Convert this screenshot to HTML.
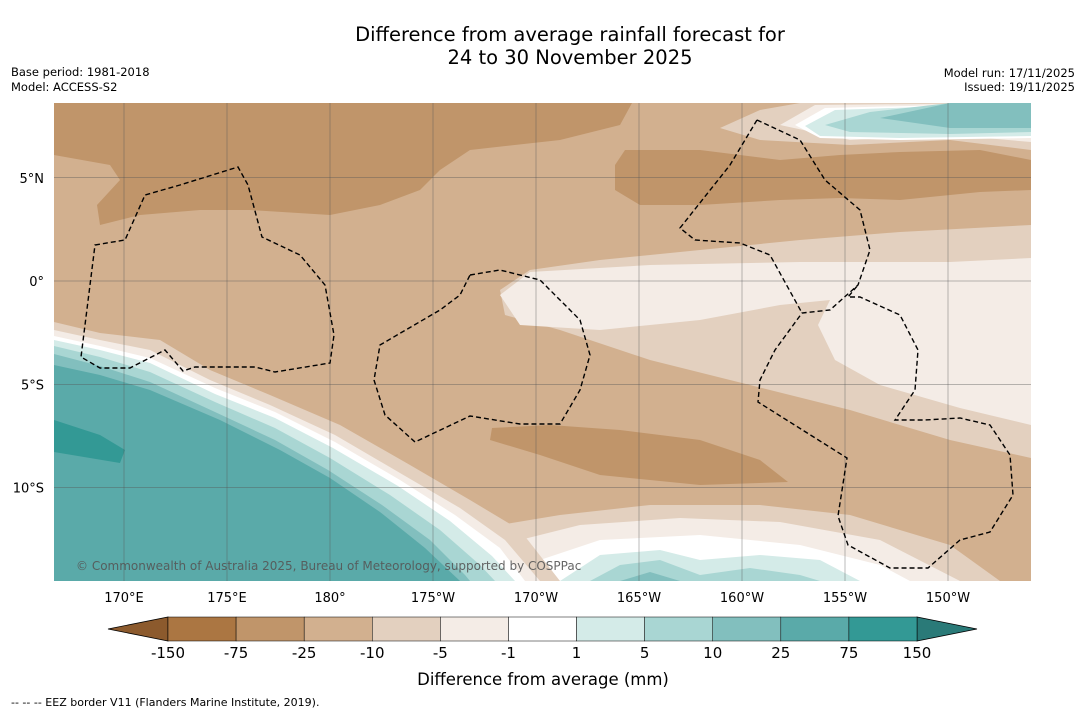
<!DOCTYPE html>
<html><head><meta charset="utf-8"><style>
body{margin:0;background:#fff;width:1085px;height:713px;overflow:hidden;font-family:"Liberation Sans","DejaVu Sans",sans-serif}
svg text{font-family:"DejaVu Sans","Liberation Sans",sans-serif}
</style></head><body>
<svg id="c" width="1085" height="713">
<text x="570" y="41" text-anchor="middle" font-size="19.5">Difference from average rainfall forecast for</text>
<text x="570" y="64" text-anchor="middle" font-size="19.5">24 to 30 November 2025</text>
<text x="11" y="76" font-size="11.5">Base period: 1981-2018</text>
<text x="11" y="91" font-size="11.5">Model: ACCESS-S2</text>
<text x="1075" y="77" font-size="11.5" text-anchor="end">Model run: 17/11/2025</text>
<text x="1075" y="91" font-size="11.5" text-anchor="end">Issued: 19/11/2025</text>
<defs><clipPath id="mc"><rect x="54" y="103" width="977" height="478"/></clipPath></defs>
<g clip-path="url(#mc)">
<rect x="54" y="103" width="977" height="478" fill="#d2b08f"/>
<polygon fill="#c0956a" points="54,103 632,103 620,125 560,140 470,150 440,170 420,190 380,205 330,215 250,210 200,210 140,215 100,225 97,205 120,180 110,165 54,155"/>
<polygon fill="#c0956a" points="625,150 700,150 780,160 840,155 900,152 980,150 1031,160 1031,190 980,192 900,200 840,198 780,200 700,205 640,205 615,190 615,165"/>
<polygon fill="#c0956a" points="492,428 550,425 620,430 700,440 760,460 788,482 700,485 600,475 540,455 490,440"/>
<polygon fill="#e3d0bf" points="500,290 530,270 600,260 700,250 800,240 900,232 1031,225 1031,458 950,440 850,410 750,385 650,360 560,330 505,315"/>
<polygon fill="#f4ece6" points="500,295 530,272 650,265 800,262 950,262 1031,258 1031,425 960,408 880,385 835,360 818,325 830,300 780,305 700,320 600,330 520,325"/>
<polygon fill="#e3d0bf" points="720,128 760,110 800,103 1031,103 1031,150 950,140 850,145 760,140"/>
<polygon fill="#f4ece6" points="780,125 815,105 1031,103 1031,142 950,135 850,140"/>
<polygon fill="#fff" points="795,125 825,108 1031,103 1031,138 900,140 820,138"/>
<polygon fill="#d4ebe8" points="805,126 835,110 1031,103 1031,136 900,138 820,136"/>
<polygon fill="#a9d6d3" points="825,125 870,112 950,103 1031,103 1031,132 950,134 850,132"/>
<polygon fill="#82bfbe" points="880,118 950,103 1031,103 1031,128 950,128"/>
<g>
<polygon fill="#e3d0bf" points="470,530 560,515 650,505 760,505 850,515 950,545 1000,581 470,581"/>
<polygon fill="#f4ece6" points="500,545 580,525 680,518 780,522 880,540 960,581 500,581"/>
<polygon fill="#fff" points="540,560 600,540 700,535 800,545 880,565 910,581 540,581"/>
<polygon fill="#d4ebe8" points="560,581 600,555 660,550 700,560 760,555 820,560 860,581"/>
<polygon fill="#a9d6d3" points="590,581 620,565 660,560 700,575 750,568 800,575 820,581"/>
<polygon fill="#82bfbe" points="620,581 650,572 680,581"/>
</g>
<g>
<polygon fill="#e3d0bf" points="54,322 100,333 160,340 210,370 270,395 340,425 410,465 470,500 520,530 560,581 54,581"/>
<polygon fill="#f4ece6" points="54,330 100,340 150,350 210,380 270,405 335,435 400,473 460,508 505,540 540,581 54,581"/>
<polygon fill="#fff" points="54,336 100,346 150,358 215,388 275,412 335,442 400,480 455,515 500,548 525,581 54,581"/>
<polygon fill="#d4ebe8" points="54,340 100,350 150,363 215,394 275,418 333,448 398,486 450,521 492,556 515,581 54,581"/>
<polygon fill="#a9d6d3" points="54,346 100,357 150,372 215,402 275,428 330,458 390,495 440,530 480,565 495,581 54,581"/>
<polygon fill="#82bfbe" points="54,354 100,366 150,382 215,412 275,440 328,470 382,505 430,540 465,575 470,581 54,581"/>
<polygon fill="#5aaaa9" points="54,365 100,375 150,390 220,420 280,450 330,478 380,512 425,548 460,581 54,581"/>
<polygon fill="#339995" points="54,420 100,435 125,450 120,463 54,452"/>
</g>
<g id="grid" stroke="#555" stroke-width="0.5" stroke-opacity="0.8"></g>
<g fill="none" stroke="#000" stroke-width="1.4" stroke-dasharray="5,3">
<path d="M95,245 L125,240 L145,195 L180,185 L238,167 L248,185 L262,237 L300,255 L325,285 L334,335 L330,363 L275,372 L255,367 L195,367 L183,371 L165,350 L130,368 L100,368 L81,357 Z"/>
<path d="M470,275 L500,270 L540,280 L580,320 L590,355 L580,390 L560,424 L520,424 L470,416 L415,442 L385,415 L374,380 L380,345 L440,310 L460,295 Z"/>
<path d="M757,120 L800,140 L825,180 L860,210 L870,250 L858,285 L830,310 L802,313 L775,350 L760,380 L758,402 L847,458 L838,516 L848,545 L890,568 L928,568 L960,540 L990,532 L1013,495 L1010,455 L990,425 L960,418 L925,420 L895,420 L915,390 L918,350 L900,315 L860,297 L848,297 L858,285 M757,120 L730,165 L680,228 L695,240 L740,243 L770,255 L802,313"/>
</g>
<text x="76" y="570" font-size="12" fill="#555" fill-opacity="0.9">© Commonwealth of Australia 2025, Bureau of Meteorology, supported by COSPPac</text>
</g>
<g id="axes" font-size="13"></g>
<g id="cbar"></g>
<text x="543" y="685" text-anchor="middle" font-size="16.5">Difference from average (mm)</text>
<text x="11" y="706" font-size="11">--  --  -- EEZ border V11 (Flanders Marine Institute, 2019).</text>
</svg>
<script>
const lonLabels=["170°E","175°E","180°","175°W","170°W","165°W","160°W","155°W","150°W"];
const lonValues=[170,175,180,185,190,195,200,205,210];
const latLabels=["5°N","0°","5°S","10°S"];
const latValues=[5,0,-5,-10];
const levels=["-150","-75","-25","-10","-5","-1","1","5","10","25","75","150"];
const levelColors=["#ab7642","#c0956a","#d2b08f","#e3d0bf","#f4ece6","#ffffff","#d4ebe8","#a9d6d3","#82bfbe","#5aaaa9","#339995"];
const underColor="#8c5a2d", overColor="#2a7a78";
const NS="http://www.w3.org/2000/svg";
const xLon=l=>124+(l-170)*20.6, yLat=l=>281-l*20.65;
function mk(t,a,p){const e=document.createElementNS(NS,t);for(const k in a)e.setAttribute(k,a[k]);p.appendChild(e);return e;}
const grid=document.getElementById('grid'),axes=document.getElementById('axes');
lonValues.forEach((v,i)=>{const x=xLon(v);
const l=mk('line',{x1:x,x2:x,y1:103,y2:581},grid);


const t=mk('text',{x:x,y:602,'text-anchor':'middle'},axes);t.textContent=lonLabels[i];

});
latValues.forEach((v,i)=>{const y=yLat(v);
const l=mk('line',{x1:54,x2:1031,y1:y,y2:y},grid);


const t=mk('text',{x:44,y:y+5,'text-anchor':'end'},axes);t.textContent=latLabels[i];

});
const cb=document.getElementById('cbar');
const x0=168,x1=917,y0=617,h=24,w=(x1-x0)/levelColors.length;
const lt=mk('polygon',{points:`108,${y0+h/2} ${x0},${y0} ${x0},${y0+h}`,fill:underColor,stroke:'#000','stroke-width':0.8},cb);


const rt=mk('polygon',{points:`977,${y0+h/2} ${x1},${y0} ${x1},${y0+h}`,fill:overColor,stroke:'#000','stroke-width':0.8},cb);


levelColors.forEach((c,i)=>{const r=mk('rect',{x:x0+i*w,y:y0,width:w,height:h,fill:c,stroke:'#000','stroke-width':0.5},cb);

});
levels.forEach((s,i)=>{const t=mk('text',{x:x0+i*w,y:658,'text-anchor':'middle','font-size':15},cb);t.textContent=s;

});
</script>
</body></html>
